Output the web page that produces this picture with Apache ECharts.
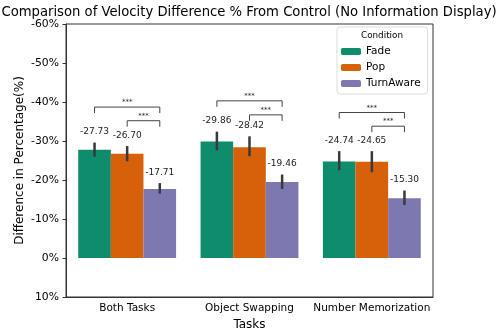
<!DOCTYPE html>
<html>
<head>
<meta charset="utf-8">
<script src="https://cdn.jsdelivr.net/npm/echarts@6/dist/echarts.min.js"></script>
<style>
  html, body { margin: 0; padding: 0; background: #fff; }
  #chart { width: 498px; height: 329px; }
</style>
</head>
<body>
<div id="chart"></div>
<script>
const tasks = ['Both Tasks', 'Object Swapping', 'Number Memorization'];
const conditions = ['Fade', 'Pop', 'TurnAware'];
const colors = ['#0e8c6c', '#d7600a', '#7e78b0'];

// mean velocity difference (%) per task
const fadeVals = [-27.73, -29.86, -24.74];
const popVals = [-26.70, -28.42, -24.65];
const turnVals = [-17.71, -19.46, -15.30];

// error bar extent [upper end, lower end]
const fadeCI = [[-29.6, -26.0], [-32.4, -27.6], [-27.4, -22.5]];
const popCI = [[-28.7, -24.8], [-31.2, -26.1], [-27.4, -22.0]];
const turnCI = [[-19.2, -16.5], [-21.4, -17.7], [-17.3, -13.6]];

// significance brackets: Fade-TurnAware (big) and Pop-TurnAware (small)
const bracketBig = [-38.7, -40.3, -37.3];
const bracketSmall = [-35.2, -36.7, -33.8];

const allVals = [fadeVals, popVals, turnVals];
const allCI = [fadeCI, popCI, turnCI];

let errData = [];
allVals.forEach((vals, k) => {
  vals.forEach((v, i) => {
    errData.push([i, allCI[k][i][0], allCI[k][i][1], v, k]);
  });
});

let bracketData = [];
tasks.forEach((t, i) => {
  bracketData.push([i, bracketBig[i], 0, 2]);
  bracketData.push([i, bracketSmall[i], 1, 2]);
});

function barX(api, ci, k) {
  const c = api.coord([ci, 0]);
  const bw = api.size([1, 0])[0] * 0.8 / 3;
  return c[0] + (k - 1) * bw;
}

let option = {
  animation: false,
  textStyle: { fontFamily: 'DejaVu Sans' },
  title: {
    text: 'Comparison of Velocity Difference % From Control (No Information Display)',
    left: 'center',
    top: 1,
    textStyle: { fontSize: 13.2, fontWeight: 'normal', color: '#000', fontFamily: 'DejaVu Sans' }
  },
  grid: {
    left: 66, right: 65, top: 24, bottom: 32,
    outerBoundsMode: 'none',
    containLabel: false,
    show: true, borderColor: '#333', borderWidth: 1
  },
  legend: {
    orient: 'vertical',
    left: 337, top: 27,
    padding: [19, 7, 5, 4],
    itemWidth: 20, itemHeight: 7, itemGap: 5,
    backgroundColor: '#fff',
    borderColor: '#ddd', borderWidth: 1, borderRadius: 3,
    textStyle: { fontSize: 10.5, color: '#000', fontFamily: 'DejaVu Sans' },
    data: conditions
  },
  graphic: [{
    type: 'text', left: 361, top: 31, z: 100,
    style: { text: 'Condition', fontSize: 8.8, fill: '#000', fontFamily: 'DejaVu Sans' }
  }],
  xAxis: {
    type: 'category',
    data: tasks,
    name: 'Tasks',
    nameLocation: 'middle',
    nameGap: 19,
    nameTextStyle: { fontSize: 12, color: '#000' },
    axisLine: { onZero: false, lineStyle: { color: '#333' } },
    axisTick: { alignWithLabel: true, length: 3.5, lineStyle: { color: '#333' } },
    axisLabel: { fontSize: 10.5, color: '#000', margin: 6, interval: 0, hideOverlap: false }
  },
  yAxis: {
    type: 'value',
    inverse: true,
    min: -60, max: 10, interval: 10,
    name: 'Difference in Percentage(%)',
    nameLocation: 'middle',
    nameGap: 40,
    nameMoveOverlap: false,
    nameTextStyle: { fontSize: 12, color: '#000' },
    axisLine: { show: true, lineStyle: { color: '#333' } },
    axisTick: { show: true, length: 3.5, lineStyle: { color: '#333' } },
    splitLine: { show: false },
    axisLabel: { fontSize: 10.8, color: '#000', margin: 7, formatter: v => v + '%' }
  },
  series: [
    ...conditions.map((c, k) => ({
      name: c,
      type: 'bar',
      data: allVals[k],
      barGap: '0%',
      barCategoryGap: '20%',
      itemStyle: { color: colors[k] }
    })),
    {
      type: 'custom',
      data: errData,
      z: 5,
      encode: { x: 0, y: [1, 2] },
      renderItem: function (params, api) {
        const ci = api.value(0), k = api.value(4);
        const x = barX(api, ci, k);
        const y1 = api.coord([ci, api.value(1)])[1];
        const y2 = api.coord([ci, api.value(2)])[1];
        const top = Math.min(y1, y2);
        return {
          type: 'group',
          children: [
            { type: 'line', shape: { x1: x, y1: y1, x2: x, y2: y2 },
              style: { stroke: '#3a3a3a', lineWidth: 2.5 } },
            { type: 'text', x: x, y: top - 6,
              style: { text: api.value(3).toFixed(2), fontSize: 9, fill: '#222',
                       align: 'center', verticalAlign: 'bottom', fontFamily: 'DejaVu Sans' } }
          ]
        };
      }
    },
    {
      type: 'custom',
      data: bracketData,
      z: 5,
      encode: { x: 0, y: 1 },
      renderItem: function (params, api) {
        const ci = api.value(0);
        const xa = barX(api, ci, api.value(2));
        const xb = barX(api, ci, api.value(3));
        const y = api.coord([ci, api.value(1)])[1];
        const drop = 6;
        return {
          type: 'group',
          children: [
            { type: 'polyline',
              shape: { points: [[xa, y + drop], [xa, y], [xb, y], [xb, y + drop]] },
              style: { stroke: '#444', lineWidth: 1, fill: null } },
            { type: 'text', x: (xa + xb) / 2, y: y - 1,
              style: { text: '***', fontSize: 7, fill: '#222', align: 'center',
                       verticalAlign: 'bottom', fontFamily: 'DejaVu Sans' } }
          ]
        };
      }
    }
  ]
};

let myChart = echarts.init(document.getElementById('chart'));
myChart.setOption(option);

window.addEventListener('resize', function () {
  myChart.resize();
}, false);
</script>
</body>
</html>
